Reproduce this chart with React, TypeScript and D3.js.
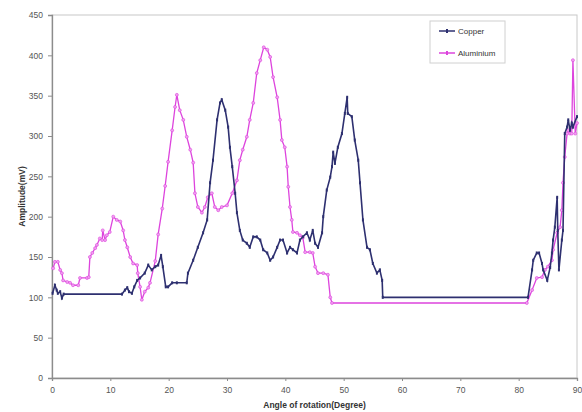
import React, { useEffect, useRef } from 'react';
import * as d3 from 'd3';

// angle of rotation (degree) and amplitude (mV)
const copperAngle = [0.1, 0.5, 0.8, 1.0, 1.4, 1.7, 2.0, 12.0, 12.5, 12.9, 13.2, 13.7, 14.1, 14.6, 15.1, 15.9, 16.5, 17.1, 17.7, 18.2, 18.7, 19.0, 19.5, 19.9, 20.6, 21.4, 23.1, 23.3, 24.2, 25.0, 25.9, 26.6, 27.1, 27.6, 28.3, 28.8, 29.1, 29.7, 30.2, 30.5, 30.9, 31.4, 31.7, 32.2, 32.7, 33.4, 33.9, 34.5, 35.1, 35.7, 36.2, 36.9, 37.4, 37.9, 38.6, 39.1, 39.6, 40.3, 40.8, 41.3, 42.0, 42.5, 43.0, 43.7, 44.2, 44.7, 45.1, 45.6, 46.3, 46.5, 47.1, 47.7, 48.0, 48.2, 48.5, 49.0, 49.7, 50.2, 50.6, 50.7, 51.4, 51.9, 52.5, 52.8, 53.3, 54.0, 54.5, 55.0, 55.7, 56.2, 56.6, 56.7, 81.6, 82.3, 82.5, 83.1, 83.5, 84.0, 84.2, 84.9, 85.4, 85.7, 85.9, 86.2, 86.6, 86.7, 86.9, 87.4, 87.6, 87.9, 88.3, 88.5, 88.8, 89.1, 89.3, 90.0];
const copperValues = [105, 115, 109, 105, 107, 99, 104, 104, 109, 112, 107, 105, 113, 121, 124, 130, 140, 134, 138, 140, 152, 138, 113, 113, 118, 118, 118, 130, 146, 162, 180, 196, 242, 270, 320, 341, 345, 332, 311, 286, 262, 229, 205, 183, 171, 167, 162, 175, 175, 171, 159, 155, 146, 150, 162, 171, 171, 155, 162, 159, 155, 171, 175, 180, 171, 183, 167, 162, 180, 200, 233, 249, 262, 280, 266, 286, 303, 328, 348, 328, 324, 295, 270, 242, 196, 162, 159, 142, 130, 134, 121, 100, 100, 134, 146, 155, 155, 142, 134, 121, 137, 155, 171, 187, 224, 183, 134, 171, 183, 303, 311, 320, 307, 316, 311, 324];

const aluminiumAngle = [0.2, 0.5, 1.0, 1.4, 1.7, 1.9, 2.6, 3.1, 3.6, 4.5, 4.8, 6.0, 6.3, 6.5, 6.9, 7.4, 7.7, 8.2, 8.6, 8.7, 9.1, 9.4, 9.9, 10.5, 11.1, 11.7, 12.2, 12.5, 12.9, 13.4, 13.9, 14.6, 14.7, 15.1, 15.4, 15.9, 16.5, 16.8, 17.7, 18.2, 18.9, 19.4, 19.9, 20.6, 21.1, 21.4, 21.9, 22.5, 23.1, 23.7, 24.2, 24.5, 25.0, 25.7, 26.2, 26.7, 27.4, 27.9, 28.5, 29.1, 30.0, 30.9, 31.7, 32.2, 32.7, 33.4, 33.9, 34.5, 35.1, 35.7, 36.3, 36.9, 37.4, 37.9, 38.6, 39.1, 39.4, 39.9, 40.3, 40.5, 40.8, 41.1, 41.3, 42.0, 42.5, 43.0, 43.4, 44.2, 44.7, 45.1, 45.6, 46.5, 47.3, 47.7, 48.0, 81.4, 82.3, 83.1, 84.0, 84.5, 85.0, 85.7, 85.9, 86.6, 87.1, 87.4, 87.6, 87.9, 88.3, 88.5, 88.8, 89.1, 89.3, 89.7, 90.0];
const aluminiumValues = [136, 144, 144, 134, 130, 121, 119, 118, 115, 115, 124, 124, 125, 150, 155, 161, 165, 173, 171, 183, 171, 177, 181, 200, 196, 194, 183, 171, 162, 150, 142, 140, 130, 113, 97, 107, 112, 118, 145, 178, 210, 238, 268, 307, 336, 351, 332, 320, 299, 283, 267, 229, 212, 205, 212, 224, 229, 212, 208, 212, 214, 229, 245, 270, 283, 299, 320, 341, 378, 394, 410, 407, 398, 373, 348, 320, 295, 286, 262, 237, 212, 196, 181, 180, 177, 174, 156, 156, 155, 138, 130, 130, 128, 100, 93, 93, 109, 124, 125, 134, 138, 146, 159, 180, 187, 208, 242, 274, 303, 307, 303, 303, 394, 303, 316];

const xTicks = [0, 10, 20, 30, 40, 50, 60, 70, 80, 90];
const yTicks = [0, 50, 100, 150, 200, 250, 300, 350, 400, 450];

const COPPER = '#2e3070';
const ALU = '#dd44dd';

function zip(a: number[], b: number[]): [number, number][] {
    return a.map((d, i) => [d, b[i]]);
}

export default function App() {
    const ref = useRef<SVGSVGElement>(null);

    useEffect(() => {
        document.body.style.margin = '0';
        const svg = d3.select(ref.current);
        svg.selectAll('*').remove();

        const margin = { top: 15, right: 5, bottom: 34, left: 52 };
        const width = 582 - margin.left - margin.right,
            height = 412 - margin.top - margin.bottom;

        const x = d3.scaleLinear().domain([0, 90]).range([0, width]);
        const y = d3.scaleLinear().domain([0, 450]).range([height, 0]);

        const g = svg.append('g').attr('transform', `translate(${margin.left},${margin.top})`);

        // plot area frame
        g.append('rect')
            .attr('width', width).attr('height', height)
            .attr('fill', 'white').attr('stroke', '#c8c8c8').attr('stroke-width', 1);

        const xAxis = g.append('g')
            .attr('transform', `translate(0,${height})`)
            .call(d3.axisBottom(x).tickValues(xTicks).tickSize(3).tickPadding(6));
        const yAxis = g.append('g')
            .call(d3.axisLeft(y).tickValues(yTicks).tickSize(4).tickPadding(5));

        [xAxis, yAxis].forEach(a => {
            a.select('.domain').attr('stroke', '#8c8c8c').attr('stroke-width', 1.3);
            a.selectAll('.tick line').attr('stroke', '#8c8c8c');
            a.selectAll('.tick text')
                .attr('fill', '#555')
                .style('font-family', 'Liberation Sans, Arial, sans-serif')
                .style('font-size', '8.5px');
        });

        const line = d3.line<[number, number]>()
            .x(d => x(d[0]))
            .y(d => y(d[1]));

        const alu = zip(aluminiumAngle, aluminiumValues);
        const cu = zip(copperAngle, copperValues);

        g.append('path').datum(alu)
            .attr('fill', 'none').attr('stroke', ALU).attr('stroke-width', 1.3)
            .attr('d', line);
        g.selectAll('.alu-pt').data(alu).enter()
            .append('circle').attr('class', 'alu-pt')
            .attr('cx', d => x(d[0])).attr('cy', d => y(d[1]))
            .attr('r', 1.5).attr('fill', '#f0a0f0').attr('stroke', ALU).attr('stroke-width', 0.6);

        g.append('path').datum(cu)
            .attr('fill', 'none').attr('stroke', COPPER).attr('stroke-width', 1.6)
            .attr('d', line);
        g.selectAll('.cu-pt').data(cu).enter()
            .append('rect').attr('class', 'cu-pt')
            .attr('x', d => x(d[0]) - 1).attr('y', d => y(d[1]) - 1.5)
            .attr('width', 2).attr('height', 3).attr('fill', COPPER);

        // legend
        const lg = svg.append('g').attr('transform', 'translate(430,21)');
        lg.append('rect').attr('width', 75).attr('height', 42)
            .attr('fill', 'white').attr('stroke', '#d0d0d0');
        const items = [
            { name: 'Copper', color: COPPER, yy: 10 },
            { name: 'Aluminium', color: ALU, yy: 32 },
        ];
        items.forEach(it => {
            lg.append('line').attr('x1', 9).attr('x2', 25).attr('y1', it.yy).attr('y2', it.yy)
                .attr('stroke', it.color).attr('stroke-width', 1.5);
            lg.append('rect').attr('x', 16).attr('y', it.yy - 2).attr('width', 2).attr('height', 4).attr('fill', it.color);
            lg.append('text').attr('x', 28).attr('y', it.yy + 3)
                .style('font-family', 'Liberation Sans, Arial, sans-serif')
                .style('font-size', '8px').attr('fill', '#333')
                .text(it.name);
        });

        // axis titles
        svg.append('text')
            .attr('x', margin.left + width / 2).attr('y', 408)
            .attr('text-anchor', 'middle')
            .style('font-family', 'Liberation Sans, Arial, sans-serif')
            .style('font-size', '8.5px').style('font-weight', 'bold').attr('fill', '#333')
            .text('Angle of rotation(Degree)');
        svg.append('text')
            .attr('transform', `translate(25,${margin.top + height / 2}) rotate(-90)`)
            .attr('text-anchor', 'middle')
            .style('font-family', 'Liberation Sans, Arial, sans-serif')
            .style('font-size', '8.5px').style('font-weight', 'bold').attr('fill', '#333')
            .text('Amplitude(mV)');
    }, []);

    return <svg ref={ref} width={582} height={412} style={{ display: 'block' }}></svg>;
}
